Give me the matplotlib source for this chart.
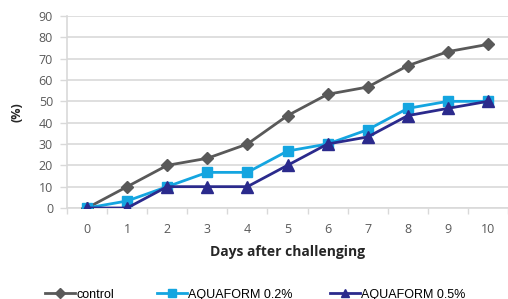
import numpy as np
import matplotlib
matplotlib.use("Agg")
from matplotlib import pyplot as plt

# data
days = [0, 1, 2, 3, 4, 5, 6, 7, 8, 9, 10]
control = [0, 10, 20, 23.3, 30, 43.3, 53.3, 56.7, 66.7, 73.3, 76.7]
aqua02 = [0, 3.3, 10, 16.7, 16.7, 26.7, 30, 36.7, 46.7, 50, 50]
aqua05 = [0, 0, 10, 10, 10, 20, 30, 33.3, 43.3, 46.7, 50]
yticks = [0, 10, 20, 30, 40, 50, 60, 70, 80, 90]

grey = '#595959'
lightblue = '#14a5e0'
navy = '#2b2a8c'
gridc = '#d9d9d9'

fig = plt.figure(figsize=(5.08, 2.99), dpi=100)
ax = fig.add_axes([67/508, 1-208/299, 441/508, 192/299])

l1, = ax.plot(days, control, color=grey, lw=2.0, marker='D', ms=6.5, zorder=3)
l2, = ax.plot(days, aqua02, color=lightblue, lw=2.0, marker='s', ms=7.5, zorder=4)
l3, = ax.plot(days, aqua05, color=navy, lw=2.0, marker='^', ms=8, zorder=5)

ax.set_xlim(-0.5, 10.5)
ax.set_ylim(0, 90)
ax.set_yticks(yticks)
ax.set_xticks(days)
ax.set_xticks(np.arange(-0.5, 11, 1), minor=True)
ax.tick_params(axis='x', which='major', length=0, pad=11, labelsize=9, labelcolor=grey)
ax.tick_params(axis='x', which='minor', length=4, color=gridc, width=1)
ax.tick_params(axis='y', length=5, color=gridc, width=1, pad=5, labelsize=9, labelcolor=grey)
for lab in ax.get_xticklabels() + ax.get_yticklabels():
    lab.set_family('Open Sans')

ax.grid(axis='y', color=gridc, lw=1.2)
ax.set_axisbelow(True)
for s in ['top', 'right']:
    ax.spines[s].set_visible(False)
ax.spines['left'].set_color(gridc)
ax.spines['bottom'].set_color(gridc)
ax.spines['left'].set_linewidth(1.2)
ax.spines['bottom'].set_linewidth(1.2)

ax.set_xlabel('Days after challenging', fontsize=10, fontweight='bold',
              family='Open Sans', color='#262626', labelpad=6)
ax.set_ylabel('(%)', fontsize=9, fontweight='bold', family='Open Sans',
              color='#262626', labelpad=11)

# three separate legend entries, placed like the original
for h, lab, xpos in [(l1, 'control', 45/508), (l2, 'AQUAFORM 0.2%', 157/508),
                     (l3, 'AQUAFORM 0.5%', 330/508)]:
    fig.legend([h], [lab], loc='center left', bbox_to_anchor=(xpos, 0.015),
               frameon=False, handlelength=2.4, handletextpad=0.1,
               borderpad=0, borderaxespad=0, markerscale=0.75,
               prop={'family': 'Liberation Sans', 'size': 9})

fig.savefig('out.png', dpi=100)
